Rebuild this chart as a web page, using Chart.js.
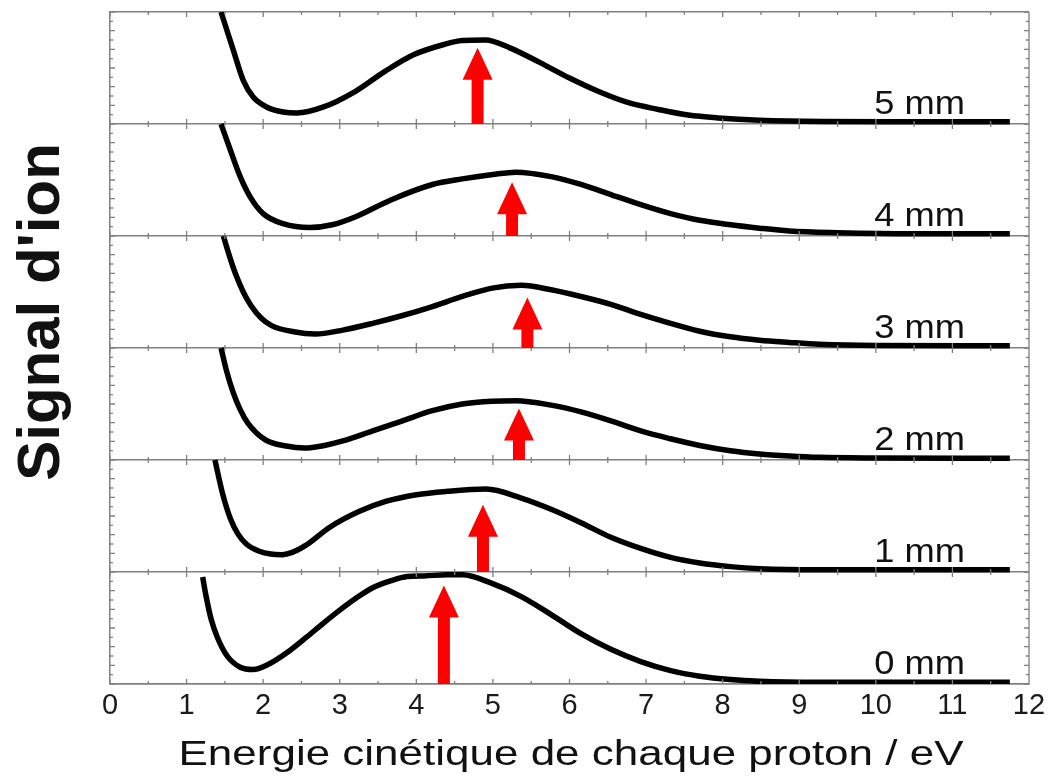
<!DOCTYPE html>
<html>
<head>
<meta charset="utf-8">
<script src="https://cdn.jsdelivr.net/npm/chart.js@4.4.1/dist/chart.umd.min.js"></script>
<style>
  body { margin: 0; background: #fff; }
  #wrap { width: 1053px; height: 776px; }
</style>
</head>
<body>
<div id="wrap"><canvas id="chart"></canvas></div>
<script>
// one curve per distance, signal normalised to the panel height (0 = bottom, 1 = top)
let labels = ['0 mm', '1 mm', '2 mm', '3 mm', '4 mm', '5 mm'];

let energy0 = [1.21, 1.25, 1.32, 1.40, 1.53, 1.70, 1.87, 2.05, 2.35, 2.57, 2.78, 3.0, 3.22, 3.43, 3.66, 3.88, 4.1, 4.4, 4.6, 4.98, 5.37, 5.76, 6.15, 6.54, 6.93, 7.32, 7.7, 8.1, 8.48, 9.26, 10.5, 11.75];
let signal0 = [0.955, 0.80, 0.58, 0.42, 0.25, 0.15, 0.13, 0.17, 0.30, 0.42, 0.54, 0.66, 0.77, 0.86, 0.92, 0.96, 0.965, 0.975, 0.975, 0.90, 0.78, 0.62, 0.45, 0.31, 0.20, 0.12, 0.07, 0.04, 0.024, 0.015, 0.015, 0.015];

let energy1 = [1.37, 1.47, 1.57, 1.67, 1.78, 1.95, 2.1, 2.25, 2.38, 2.55, 2.87, 3.25, 3.6, 4.0, 4.4, 4.91, 5.37, 5.76, 6.15, 6.54, 6.93, 7.32, 7.7, 8.1, 8.48, 9.26, 10.5, 11.75];
let signal1 = [1.0, 0.70, 0.48, 0.34, 0.25, 0.185, 0.16, 0.155, 0.175, 0.235, 0.40, 0.54, 0.63, 0.69, 0.72, 0.74, 0.66, 0.56, 0.44, 0.31, 0.21, 0.13, 0.08, 0.048, 0.03, 0.02, 0.02, 0.02];

let energy2 = [1.45, 1.52, 1.6, 1.7, 1.8, 2.03, 2.3, 2.54, 2.8, 3.04, 3.43, 3.82, 4.21, 4.6, 4.99, 5.3, 5.76, 6.15, 6.54, 6.93, 7.32, 7.7, 8.1, 8.48, 8.87, 9.26, 10.0, 11.75];
let signal2 = [1.0, 0.80, 0.62, 0.45, 0.33, 0.18, 0.125, 0.107, 0.13, 0.17, 0.26, 0.35, 0.44, 0.50, 0.525, 0.53, 0.49, 0.43, 0.35, 0.26, 0.19, 0.13, 0.083, 0.054, 0.036, 0.024, 0.018, 0.015];

let energy3 = [1.48, 1.56, 1.64, 1.74, 1.84, 1.97, 2.11, 2.4, 2.68, 3.04, 3.43, 3.82, 4.21, 4.6, 4.99, 5.37, 5.76, 6.15, 6.54, 6.93, 7.32, 7.7, 8.1, 8.48, 8.87, 9.26, 10.0, 11.75];
let signal3 = [1.0, 0.82, 0.66, 0.50, 0.38, 0.27, 0.20, 0.145, 0.125, 0.16, 0.22, 0.29, 0.37, 0.46, 0.535, 0.56, 0.52, 0.46, 0.39, 0.30, 0.22, 0.15, 0.10, 0.07, 0.05, 0.033, 0.022, 0.02];

let energy4 = [1.45, 1.57, 1.70, 1.83, 2.0, 2.26, 2.61, 2.9, 3.2, 3.66, 4.21, 4.6, 5.0, 5.3, 5.76, 6.15, 6.54, 6.93, 7.32, 7.7, 8.1, 8.48, 8.87, 9.5, 10.5, 11.75];
let signal4 = [1.0, 0.77, 0.53, 0.35, 0.2, 0.11, 0.075, 0.10, 0.17, 0.32, 0.46, 0.51, 0.55, 0.57, 0.53, 0.46, 0.37, 0.28, 0.20, 0.14, 0.10, 0.07, 0.045, 0.03, 0.02, 0.02];

let energy5 = [1.45, 1.61, 1.74, 1.87, 2.05, 2.26, 2.44, 2.78, 3.2, 3.59, 3.97, 4.36, 4.6, 4.9, 5.22, 5.61, 6.0, 6.38, 6.77, 7.16, 7.55, 7.94, 8.48, 9.3, 10.5, 11.75];
let signal5 = [1.0, 0.66, 0.39, 0.24, 0.15, 0.107, 0.098, 0.15, 0.29, 0.47, 0.62, 0.71, 0.745, 0.75, 0.68, 0.55, 0.41, 0.29, 0.19, 0.13, 0.08, 0.054, 0.033, 0.022, 0.02, 0.02];

// red arrows: energy position and height of the tip (fraction of panel)
let arrowEnergy = [4.36, 4.87, 5.34, 5.45, 5.25, 4.80];
let arrowTip = [0.88, 0.60, 0.46, 0.45, 0.48, 0.68];

let energies = [energy0, energy1, energy2, energy3, energy4, energy5];
let signals = [signal0, signal1, signal2, signal3, signal4, signal5];

const FONT = '"Liberation Sans", Arial, sans-serif';

let datasets = labels.map((label, p) => ({
  label: label,
  data: energies[p].map((e, i) => ({ x: e, y: p + signals[p][i] })),
  borderColor: '#000',
  borderWidth: 5.5,
  pointRadius: 0,
  cubicInterpolationMode: 'monotone',
  fill: false,
}));

// draws text stretched horizontally
const stretchText = (ctx, text, x, y, sx) => {
  ctx.save();
  ctx.translate(x, y);
  ctx.scale(sx, 1);
  ctx.fillText(text, 0, 0);
  ctx.restore();
};

let decorPlugin = {
  id: 'decor',
  afterDatasetsDraw(chart) {
    let ctx = chart.ctx;
    let xs = chart.scales.x;
    let ys = chart.scales.y;
    let area = chart.chartArea;

    // inward tick marks on every panel edge
    ctx.save();
    ctx.strokeStyle = '#808080';
    ctx.lineWidth = 1.3;
    ctx.beginPath();
    for (let p = 0; p <= 6; p++) {
      let yb = ys.getPixelForValue(p);
      for (let t = 0; t <= 24; t++) {
        let px = xs.getPixelForValue(t / 2);
        let len = t % 2 === 0 ? 5 : 3;
        if (p < 6) { ctx.moveTo(px, yb); ctx.lineTo(px, yb - len); }
        if (p > 0) { ctx.moveTo(px, yb); ctx.lineTo(px, yb + len); }
      }
    }
    for (let t = 0; t <= 72; t++) {
      let py = ys.getPixelForValue(t / 12);
      let len = t % 2 === 0 ? 5 : 3;
      ctx.moveTo(area.left, py); ctx.lineTo(area.left + len, py);
      ctx.moveTo(area.right, py); ctx.lineTo(area.right - len, py);
    }
    ctx.moveTo(area.right, area.top); ctx.lineTo(area.right, area.bottom);
    ctx.stroke();
    ctx.restore();

    // arrows
    ctx.save();
    ctx.fillStyle = '#ff0000';
    arrowEnergy.forEach((e, p) => {
      let cx = xs.getPixelForValue(e);
      let yb = ys.getPixelForValue(p);
      let yt = ys.getPixelForValue(p + arrowTip[p]);
      let headLen = 32, headW = 15, shaftW = 6;
      ctx.beginPath();
      ctx.moveTo(cx - shaftW, yb);
      ctx.lineTo(cx - shaftW, yt + headLen);
      ctx.lineTo(cx - headW, yt + headLen);
      ctx.lineTo(cx, yt);
      ctx.lineTo(cx + headW, yt + headLen);
      ctx.lineTo(cx + shaftW, yt + headLen);
      ctx.lineTo(cx + shaftW, yb);
      ctx.closePath();
      ctx.fill();
    });
    ctx.restore();

    // panel labels
    ctx.save();
    ctx.fillStyle = '#111';
    ctx.font = '33px ' + FONT;
    ctx.textAlign = 'right';
    ctx.textBaseline = 'alphabetic';
    labels.forEach((label, p) => {
      stretchText(ctx, label, 965, ys.getPixelForValue(p) - 10, 1.1);
    });

    // axis titles
    ctx.textAlign = 'center';
    ctx.font = '35px ' + FONT;
    let xTitle = 'Energie cinétique de chaque proton / eV';
    let sx = 785 / ctx.measureText(xTitle).width;
    stretchText(ctx, xTitle, 571, 765, sx);

    ctx.font = 'bold 60px ' + FONT;
    ctx.translate(59, 312);
    ctx.rotate(-Math.PI / 2);
    ctx.fillText("Signal d'ion", 0, 0);
    ctx.restore();
  },
};

new Chart(document.getElementById('chart'), {
  type: 'line',
  data: { datasets: datasets },
  options: {
    responsive: true,
    maintainAspectRatio: false,
    animation: false,
    events: [],
    layout: { padding: { left: 0, right: 24, top: 12, bottom: 0 } },
    plugins: { legend: { display: false }, tooltip: { enabled: false } },
    scales: {
      x: {
        type: 'linear',
        min: 0,
        max: 12,
        afterFit: (scale) => { scale.height = 92; },
        grid: { display: false, drawTicks: false },
        border: { display: true, color: '#808080', width: 1.5 },
        ticks: {
          stepSize: 1,
          padding: 5,
          color: '#1a1a1a',
          font: { family: FONT, size: 29 },
        },
      },
      y: {
        min: 0,
        max: 6,
        afterFit: (scale) => { scale.width = 110; },
        grid: { color: '#808080', lineWidth: 1.5, drawTicks: false },
        border: { display: true, color: '#808080', width: 1.5 },
        ticks: { stepSize: 1, display: false },
      },
    },
  },
  plugins: [decorPlugin],
});
</script>
</body>
</html>
